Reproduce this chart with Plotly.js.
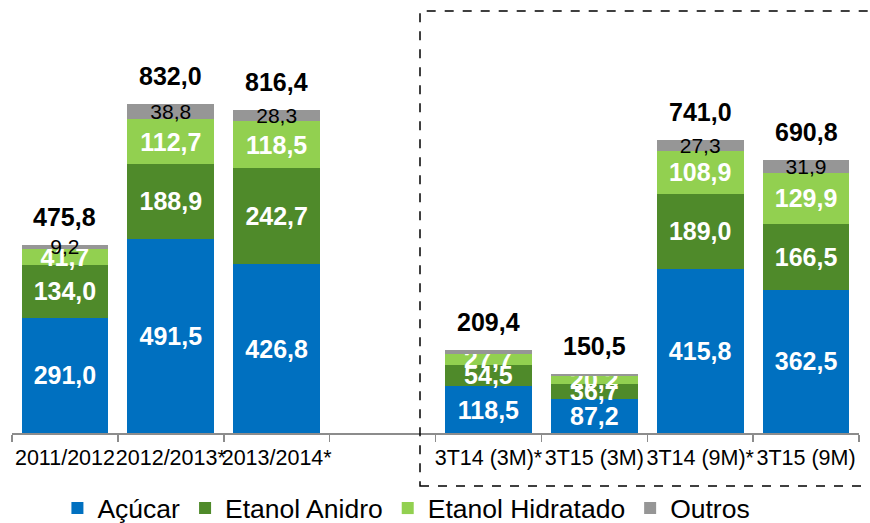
<!DOCTYPE html>
<html>
<head>
<meta charset="utf-8">
<script src="https://cdn.plot.ly/plotly-3.0.1.min.js"></script>
<style>html,body{margin:0;padding:0;background:#fff;}#chart{width:870px;height:523px;}</style>
</head>
<body>
<div id="chart"></div>
<script>
const categories = ["2011/2012","2012/2013*","2013/2014*"," ","3T14 (3M)*","3T15 (3M)","3T14 (9M)*","3T15 (9M)"];
const acucar    = [291.0, 491.5, 426.8, null, 118.5, 87.2, 415.8, 362.5];
const anidro    = [134.0, 188.9, 242.7, null, 54.5, 36.7, 189.0, 166.5];
const hidratado = [41.7, 112.7, 118.5, null, 27.7, 20.2, 108.9, 129.9];
const outros    = [9.2, 38.8, 28.3, null, 8.7, 6.4, 27.3, 31.9];
const totals    = [475.8, 832.0, 816.4, null, 209.4, 150.5, 741.0, 690.8];
const showOutrosLabel = [true, true, true, false, false, false, true, true];

const FONT = "Liberation Sans, Arial, sans-serif";
const fmt = v => (v === null ? "" : v.toFixed(1).replace(".", ","));

function barTrace(name, vals, color, textColor, bold, size, showMask) {
  return {
    type: "bar", name: name, x: categories, y: vals,
    marker: {color: color, line: {width: 0}},
    text: vals.map((v, i) => (showMask && !showMask[i]) ? "" : fmt(v)),
    textposition: "inside", insidetextanchor: "middle",
    constraintext: "none", textangle: 0,
    textfont: {family: FONT, size: size, color: textColor, weight: bold ? "bold" : "normal"},
    hoverinfo: "skip"
  };
}

const data = [
  barTrace("Açúcar", acucar, "#0070C0", "#ffffff", true, 25),
  barTrace("Etanol Anidro", anidro, "#4F8A2A", "#ffffff", true, 25),
  barTrace("Etanol Hidratado", hidratado, "#92D050", "#ffffff", true, 25),
  barTrace("Outros", outros, "#969696", "#000000", false, 21, showOutrosLabel)
];

const annotations = [];
categories.forEach((c, i) => {
  if (totals[i] === null) return;
  annotations.push({
    x: c, y: totals[i], xref: "x", yref: "y",
    text: "<b>" + fmt(totals[i]) + "</b>", showarrow: false,
    yanchor: "bottom", yshift: 12,
    font: {family: FONT, size: 25, color: "#000000"}
  });
});

const layout = {
  width: 870, height: 523,
  margin: {l: 12, r: 11, t: 10, b: 90},
  paper_bgcolor: "#ffffff", plot_bgcolor: "#ffffff",
  barmode: "stack", bargap: 0.18,
  font: {family: FONT, color: "#000000"},
  showlegend: true,
  legend: {
    orientation: "h", xref: "container", yref: "container",
    x: 0.066, xanchor: "left", y: 0.028, yanchor: "middle",
    bgcolor: "rgba(0,0,0,0)",
    font: {family: FONT, size: 26.5, color: "#000000"},
    traceorder: "normal", itemclick: false
  },
  xaxis: {
    type: "category", range: [-0.5, 7.5],
    showline: true, linecolor: "#8c8c8c", linewidth: 1.5,
    ticks: "outside", tickson: "boundaries", ticklen: 7, tickwidth: 1.5, tickcolor: "#8c8c8c",
    tickangle: 0,
    tickfont: {family: FONT, size: 21.5, color: "#000000"},
    ticklabelstandoff: 5,
    showgrid: false, zeroline: false, fixedrange: true
  },
  yaxis: {
    range: [0, 1070], visible: false, showgrid: false, zeroline: false, fixedrange: true
  },
  annotations: annotations,
  shapes: [{
    type: "rect", xref: "paper", yref: "paper", layer: "above",
    x0: (420 - 12) / 847, x1: 1.05, y0: (433 - 486) / 423, y1: (433 - 11) / 423,
    line: {color: "#000000", width: 1.5, dash: "dash"}, fillcolor: "rgba(0,0,0,0)"
  }]
};

Plotly.newPlot("chart", data, layout, {displayModeBar: false, staticPlot: true});
</script>
</body>
</html>
